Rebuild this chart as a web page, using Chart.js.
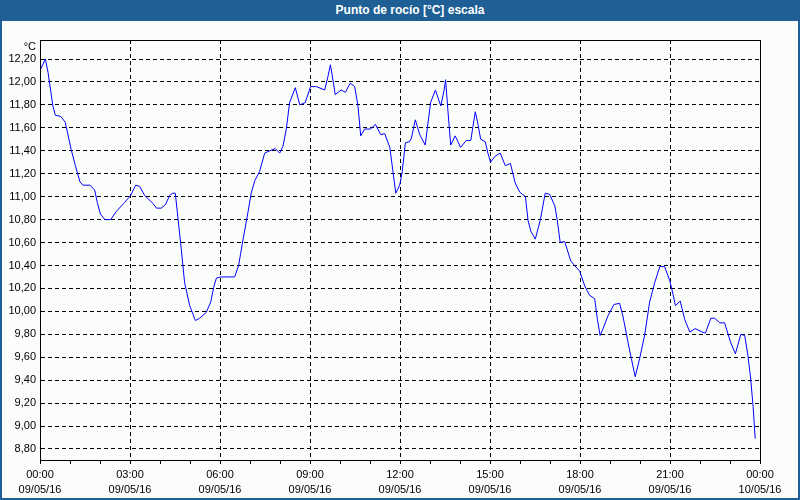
<!DOCTYPE html>
<html>
<head>
<meta charset="utf-8">
<script src="https://cdn.jsdelivr.net/npm/chart.js@4.4.1/dist/chart.umd.min.js"></script>
<style>
  html, body { margin: 0; padding: 0; }
  body { width: 800px; height: 500px; position: relative; overflow: hidden; background: #fbfdfb; font-family: "Liberation Sans", Arial, sans-serif; }
  #titlebar { position: absolute; left: 0; top: 0; width: 800px; height: 21px; background: #1f5f96; color: #fff;
    font: bold 12px "Liberation Sans", Arial, sans-serif; line-height: 21px; text-align: center; text-indent: 20px; }
  #frame { position: absolute; left: 0; top: 0; width: 800px; height: 500px; box-sizing: border-box;
    border: 2px solid #1f5f96; border-top: none; pointer-events: none; }
  #unit { position: absolute; left: 0; top: 39px; width: 36px; text-align: right; font-size: 11px; line-height: 14px; color: #000; }
  canvas { position: absolute; left: 0; top: 0; }
</style>
</head>
<body>
<canvas id="dewpoint-chart-canvas" width="800" height="500"></canvas>
<div id="titlebar">Punto de rocío [°C] escala</div>
<div id="unit">°C</div>
<div id="frame"></div>
<script>
// hours since 09/05/16 00:00
const hours = [
  0.00, 0.18, 0.27, 0.43, 0.51, 0.69, 0.84, 1.04, 1.18, 1.33, 1.43, 1.66, 1.82, 1.91, 2.01, 2.16,
  2.36, 2.54, 2.82, 3.02, 3.19, 3.32, 3.49, 3.77, 3.88, 4.04, 4.18, 4.32, 4.42, 4.51, 4.58, 4.71,
  4.82, 4.99, 5.18, 5.32, 5.54, 5.69, 5.79, 5.88, 6.02, 6.49, 6.62, 6.77, 6.91, 7.04, 7.16, 7.32,
  7.49, 7.66, 7.84, 7.99, 8.10, 8.21, 8.32, 8.51, 8.66, 8.84, 9.02, 9.21, 9.49, 9.60, 9.68, 9.77,
  9.84, 10.04, 10.18, 10.34, 10.49, 10.60, 10.69, 10.82, 11.02, 11.18, 11.36, 11.49, 11.66, 11.77,
  11.86, 11.99, 12.07, 12.18, 12.32, 12.38, 12.51, 12.66, 12.84, 13.02, 13.18, 13.36, 13.47, 13.52,
  13.60, 13.69, 13.84, 14.02, 14.21, 14.36, 14.43, 14.51, 14.60, 14.69, 14.84, 14.93, 15.02, 15.16,
  15.34, 15.51, 15.68, 15.84, 15.99, 16.18, 16.27, 16.36, 16.51, 16.68, 16.84, 16.99, 17.16, 17.24,
  17.34, 17.49, 17.69, 17.82, 17.99, 18.16, 18.32, 18.49, 18.58, 18.67, 18.77, 18.93, 19.13, 19.32,
  19.43, 19.60, 19.71, 19.84, 19.99, 20.16, 20.32, 20.49, 20.66, 20.82, 20.99, 21.10, 21.18, 21.34,
  21.49, 21.66, 21.84, 22.07, 22.18, 22.36, 22.49, 22.66, 22.82, 23.02, 23.18, 23.36, 23.49, 23.60,
  23.69, 23.77, 23.84
];
const dewPoint = [
  12.10, 12.20, 12.08, 11.79, 11.71, 11.70, 11.65, 11.41, 11.27, 11.13, 11.10, 11.10, 11.06, 10.95, 10.85, 10.80,
  10.80, 10.87, 10.95, 11.01, 11.10, 11.09, 11.01, 10.94, 10.90, 10.90, 10.93, 11.01, 11.03, 11.03, 10.86, 10.54,
  10.25, 10.05, 9.92, 9.94, 9.99, 10.08, 10.21, 10.29, 10.30, 10.30, 10.40, 10.63, 10.83, 11.03, 11.14, 11.22,
  11.38, 11.40, 11.42, 11.38, 11.44, 11.59, 11.82, 11.95, 11.80, 11.82, 11.96, 11.96, 11.93, 12.05, 12.15, 12.01,
  11.89, 11.93, 11.91, 11.99, 11.96, 11.79, 11.53, 11.59, 11.59, 11.63, 11.54, 11.55, 11.43, 11.21,
  11.03, 11.10, 11.21, 11.47, 11.48, 11.51, 11.67, 11.54, 11.45, 11.82, 11.93, 11.79, 11.93, 12.02,
  11.74, 11.45, 11.53, 11.43, 11.49, 11.49, 11.61, 11.74, 11.63, 11.50, 11.48, 11.38, 11.30, 11.35,
  11.38, 11.27, 11.29, 11.12, 11.04, 11.00, 10.79, 10.70, 10.63, 10.80, 11.03, 11.02, 10.92, 10.80,
  10.60, 10.61, 10.44, 10.40, 10.35, 10.22, 10.14, 10.11, 9.93, 9.79, 9.85, 9.96, 10.06, 10.07,
  9.96, 9.73, 9.59, 9.43, 9.59, 9.80, 10.08, 10.25, 10.39, 10.39, 10.27, 10.15, 10.05, 10.09,
  9.93, 9.82, 9.85, 9.82, 9.81, 9.94, 9.94, 9.90, 9.90, 9.73, 9.63, 9.80, 9.79, 9.61,
  9.41, 9.17, 8.89
];

const yTicks = [8.8, 9.0, 9.2, 9.4, 9.6, 9.8, 10.0, 10.2, 10.4, 10.6, 10.8, 11.0, 11.2, 11.4, 11.6, 11.8, 12.0, 12.2];
const xTickHours = [0, 3, 6, 9, 12, 15, 18, 21, 24];
const xTimeLabels = ["00:00", "03:00", "06:00", "09:00", "12:00", "15:00", "18:00", "21:00", "00:00"];
const xDateLabels = ["09/05/16", "09/05/16", "09/05/16", "09/05/16", "09/05/16", "09/05/16", "09/05/16", "09/05/16", "10/05/16"];

const axisFont = { family: "Liberation Sans", size: 11, lineHeight: 1.364 };

// solid frame round the plot area
const plotFrame = {
  id: "plotFrame",
  afterDraw(chart) {
    const a = chart.chartArea;
    const ctx = chart.ctx;
    ctx.save();
    ctx.setLineDash([]);
    ctx.strokeStyle = "#000";
    ctx.lineWidth = 1;
    ctx.strokeRect(a.left + 0.5, a.top + 0.5, a.right - a.left, a.bottom - a.top);
    ctx.restore();
  },
};

const ctx = document.getElementById("dewpoint-chart-canvas").getContext("2d");
const chart = new Chart(ctx, {
  type: "line",
  data: {
    datasets: [
      {
        label: "Punto de rocío",
        data: hours.map((h, i) => ({ x: h, y: dewPoint[i] })),
        borderColor: "#0000ff",
        borderWidth: 1,
        pointRadius: 0,
        tension: 0,
        fill: false,
      },
    ],
  },
  options: {
    responsive: false,
    animation: false,
    devicePixelRatio: 1,
    layout: { padding: { top: 40, right: 40, left: 0, bottom: 0 } },
    plugins: {
      legend: { display: false },
      tooltip: { enabled: false },
    },
    scales: {
      x: {
        type: "linear",
        min: 0,
        max: 24,
        afterBuildTicks: (axis) => {
          const t = [];
          for (let h = 0; h <= 24; h++) t.push({ value: h });
          axis.ticks = t;
        },
        afterFit: (axis) => { axis.height = 40; },
        ticks: {
          autoSkip: false,
          maxRotation: 0,
          padding: 3,
          color: "#000",
          font: axisFont,
          callback: (v) => {
            const i = xTickHours.indexOf(v);
            return i >= 0 ? [xTimeLabels[i], xDateLabels[i]] : "";
          },
        },
        grid: {
          color: (c) => (c.tick && c.tick.value % 3 === 0 && c.tick.value > 0 && c.tick.value < 24 ? "#000" : "rgba(0,0,0,0)"),
          tickColor: "#000",
          tickBorderDash: [],
          tickLength: 4,
        },
        border: { display: true, color: "#000", width: 1, dash: [4, 3] },
      },
      y: {
        type: "linear",
        min: 8.704,
        max: 12.366,
        afterBuildTicks: (axis) => {
          axis.ticks = yTicks.map((v) => ({ value: v }));
        },
        afterFit: (axis) => { axis.width = 40; },
        ticks: {
          padding: 4,
          color: "#000",
          font: axisFont,
          callback: (v) => v.toFixed(2).replace(".", ","),
        },
        grid: {
          color: "#000",
          drawTicks: false,
        },
        border: { display: true, color: "#000", width: 1, dash: [4, 3] },
      },
    },
  },
  plugins: [plotFrame],
});
</script>
</body>
</html>
